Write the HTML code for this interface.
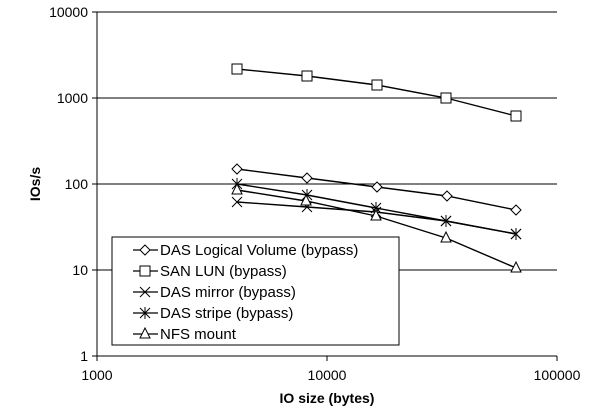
<!DOCTYPE html>
<html><head><style>body{margin:0;background:#fff}svg{display:block}text{font-family:"Liberation Sans",Arial,sans-serif;fill:#000}</style></head>
<body>
<svg width="600" height="420" viewBox="0 0 600 420" xmlns="http://www.w3.org/2000/svg">
<rect width="600" height="420" fill="#fff"/>
<g stroke="#000" stroke-width="1">
<line x1="97" y1="98" x2="557" y2="98"/>
<line x1="97" y1="184" x2="557" y2="184"/>
<line x1="97" y1="270" x2="557" y2="270"/>
<line x1="97" y1="12" x2="557" y2="12"/>
<line x1="97" y1="12" x2="97" y2="356"/>
<line x1="97" y1="356" x2="557" y2="356"/>
<line x1="92" y1="12" x2="97" y2="12"/><line x1="92" y1="98" x2="97" y2="98"/><line x1="92" y1="184" x2="97" y2="184"/><line x1="92" y1="270" x2="97" y2="270"/><line x1="92" y1="356" x2="97" y2="356"/>
<line x1="97" y1="356" x2="97" y2="361"/><line x1="327" y1="356" x2="327" y2="361"/><line x1="557" y1="356" x2="557" y2="361"/>
</g>
<g font-size="14" text-anchor="end">
<text x="88" y="17">10000</text><text x="88" y="103">1000</text><text x="88" y="189">100</text><text x="88" y="275">10</text><text x="88" y="361">1</text>
</g>
<g font-size="14" text-anchor="middle">
<text x="97" y="380">1000</text><text x="327" y="380">10000</text><text x="557" y="380">100000</text>
<text x="327" y="403" font-weight="bold">IO size (bytes)</text>
<text transform="translate(40,184) rotate(-90)" font-weight="bold">IOs/s</text>
</g>
<g fill="none" stroke="#000" stroke-width="1.4">
<polyline points="237,69 307,76 377,85 446,98 516,116"/>
<polyline points="237,169 307,178 377,187 447,196 516,210"/>
<polyline points="237,202 307,207 376,212 446,221 516,234"/>
<polyline points="237,184 307,195 376,208 446,221 516,234"/>
<polyline points="237,190 306,201 376,216 446,238 516,268"/>
</g>
<g fill="#fff" stroke="#000" stroke-width="1">
<rect x="232" y="64" width="10" height="10"/><rect x="302" y="71" width="10" height="10"/><rect x="372" y="80" width="10" height="10"/><rect x="441" y="93" width="10" height="10"/><rect x="511" y="111" width="10" height="10"/>
<path d="M237 164l5 5-5 5-5-5z M307 173l5 5-5 5-5-5z M377 182l5 5-5 5-5-5z M447 191l5 5-5 5-5-5z M516 205l5 5-5 5-5-5z"/>
<path d="M232 197l10 10M242 197l-10 10 M302 202l10 10M312 202l-10 10 M371 207l10 10M381 207l-10 10 M441 216l10 10M451 216l-10 10 M511 229l10 10M521 229l-10 10"/>
<path d="M232 179l10 10M242 179l-10 10M237 178v12 M302 190l10 10M312 190l-10 10M307 189v12 M371 203l10 10M381 203l-10 10M376 202v12 M441 216l10 10M451 216l-10 10M446 215v12 M511 229l10 10M521 229l-10 10M516 228v12"/>
<path d="M237 184l5 10h-10z M306 195l5 10h-10z M376 210l5 10h-10z M446 232l5 10h-10z M516 262l5 10h-10z"/>
</g>
<rect x="112" y="237" width="287" height="108" fill="#fff" stroke="#000"/>
<g stroke="#000" stroke-width="1.3" fill="#fff">
<line x1="133" y1="250" x2="158" y2="250"/><path d="M145 245l5 5-5 5-5-5z" stroke-width="1"/>
<line x1="133" y1="271" x2="158" y2="271"/><rect x="140" y="266" width="10" height="10" stroke-width="1"/>
<line x1="133" y1="292" x2="158" y2="292"/><path d="M140 287l10 10M150 287l-10 10" stroke-width="1"/>
<line x1="133" y1="313" x2="158" y2="313"/><path d="M140 308l10 10M150 308l-10 10M145 307v12" stroke-width="1"/>
<line x1="133" y1="334" x2="158" y2="334"/><path d="M145 328l5 10h-10z" stroke-width="1"/>
</g>
<g font-size="15">
<text x="160" y="255">DAS Logical Volume (bypass)</text>
<text x="160" y="276">SAN LUN (bypass)</text>
<text x="160" y="297">DAS mirror (bypass)</text>
<text x="160" y="318">DAS stripe (bypass)</text>
<text x="160" y="339">NFS mount</text>
</g>
</svg>
</body></html>
